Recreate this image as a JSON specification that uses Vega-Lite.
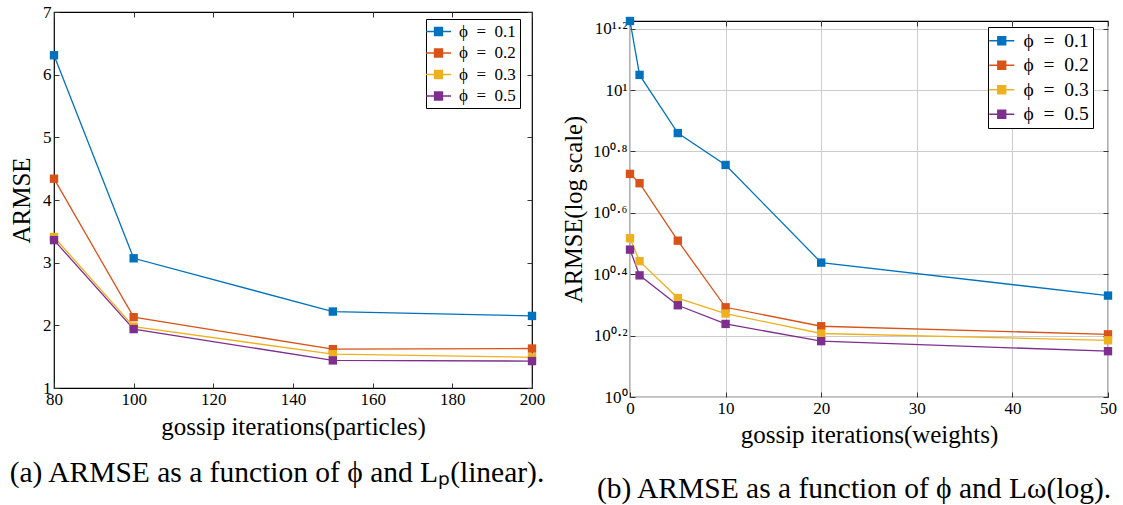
{
  "$schema": "https://vega.github.io/schema/vega-lite/v6.json",
  "padding": {"left": 8, "top": 2, "right": 5, "bottom": 0},
  "background": "white",
  "spacing": 14,
  "datasets": {
    "lin": [
      {"iter": 80, "phi": "ϕ\u2002=\u20020.1", "armse": 6.31},
      {"iter": 100, "phi": "ϕ\u2002=\u20020.1", "armse": 3.07},
      {"iter": 150, "phi": "ϕ\u2002=\u20020.1", "armse": 2.22},
      {"iter": 200, "phi": "ϕ\u2002=\u20020.1", "armse": 2.15},
      {"iter": 80, "phi": "ϕ\u2002=\u20020.2", "armse": 4.34},
      {"iter": 100, "phi": "ϕ\u2002=\u20020.2", "armse": 2.13},
      {"iter": 150, "phi": "ϕ\u2002=\u20020.2", "armse": 1.62},
      {"iter": 200, "phi": "ϕ\u2002=\u20020.2", "armse": 1.63},
      {"iter": 80, "phi": "ϕ\u2002=\u20020.3", "armse": 3.41},
      {"iter": 100, "phi": "ϕ\u2002=\u20020.3", "armse": 1.98},
      {"iter": 150, "phi": "ϕ\u2002=\u20020.3", "armse": 1.54},
      {"iter": 200, "phi": "ϕ\u2002=\u20020.3", "armse": 1.49},
      {"iter": 80, "phi": "ϕ\u2002=\u20020.5", "armse": 3.36},
      {"iter": 100, "phi": "ϕ\u2002=\u20020.5", "armse": 1.94},
      {"iter": 150, "phi": "ϕ\u2002=\u20020.5", "armse": 1.44},
      {"iter": 200, "phi": "ϕ\u2002=\u20020.5", "armse": 1.43}
    ],
    "logd": [
      {"iter": 0, "phi": "ϕ\u2002=\u20020.1", "armse": 16.78},
      {"iter": 1, "phi": "ϕ\u2002=\u20020.1", "armse": 11.2},
      {"iter": 5, "phi": "ϕ\u2002=\u20020.1", "armse": 7.24},
      {"iter": 10, "phi": "ϕ\u2002=\u20020.1", "armse": 5.70},
      {"iter": 20, "phi": "ϕ\u2002=\u20020.1", "armse": 2.74},
      {"iter": 50, "phi": "ϕ\u2002=\u20020.1", "armse": 2.14},
      {"iter": 0, "phi": "ϕ\u2002=\u20020.2", "armse": 5.33},
      {"iter": 1, "phi": "ϕ\u2002=\u20020.2", "armse": 4.97},
      {"iter": 5, "phi": "ϕ\u2002=\u20020.2", "armse": 3.23},
      {"iter": 10, "phi": "ϕ\u2002=\u20020.2", "armse": 1.96},
      {"iter": 20, "phi": "ϕ\u2002=\u20020.2", "armse": 1.70},
      {"iter": 50, "phi": "ϕ\u2002=\u20020.2", "armse": 1.60},
      {"iter": 0, "phi": "ϕ\u2002=\u20020.3", "armse": 3.29},
      {"iter": 1, "phi": "ϕ\u2002=\u20020.3", "armse": 2.77},
      {"iter": 5, "phi": "ϕ\u2002=\u20020.3", "armse": 2.10},
      {"iter": 10, "phi": "ϕ\u2002=\u20020.3", "armse": 1.87},
      {"iter": 20, "phi": "ϕ\u2002=\u20020.3", "armse": 1.61},
      {"iter": 50, "phi": "ϕ\u2002=\u20020.3", "armse": 1.53},
      {"iter": 0, "phi": "ϕ\u2002=\u20020.5", "armse": 3.02},
      {"iter": 1, "phi": "ϕ\u2002=\u20020.5", "armse": 2.49},
      {"iter": 5, "phi": "ϕ\u2002=\u20020.5", "armse": 1.99},
      {"iter": 10, "phi": "ϕ\u2002=\u20020.5", "armse": 1.73},
      {"iter": 20, "phi": "ϕ\u2002=\u20020.5", "armse": 1.52},
      {"iter": 50, "phi": "ϕ\u2002=\u20020.5", "armse": 1.41}
    ]
  },
  "resolve": {"scale": {"color": "independent"}, "legend": {"color": "independent"}},
  "hconcat": [
    {
      "width": 478,
      "height": 376,
      "data": {"name": "lin"},
      "title": {"text": "(a) ARMSE as a function of ϕ and Lₚ(linear).", "orient": "bottom", "fontSize": 29.5, "font": "Liberation Serif", "fontWeight": "normal", "color": "black", "offset": 20, "dx": -16, "anchor": "middle"},
      "encoding": {
        "color": {
          "field": "phi", "type": "nominal",
          "scale": {"domain": ["ϕ\u2002=\u20020.1", "ϕ\u2002=\u20020.2", "ϕ\u2002=\u20020.3", "ϕ\u2002=\u20020.5"], "range": ["#0072BD", "#D95319", "#EDB120", "#7E2F8E"]},
          "legend": {
            "orient": "none", "legendX": 372, "legendY": 7, "title": null, "fillColor": "white", "strokeColor": "black", "padding": 4,
            "labelFontSize": 17, "labelFont": "Liberation Serif", "labelColor": "black", "labelOffset": 12,
            "symbolType": "M-2.5,0H2.5M-0.8,-0.8H0.8V0.8H-0.8Z", "symbolSize": 100, "symbolStrokeWidth": 1.3, "rowPadding": 3.5,
            "encode": {"symbols": {"update": {
              "fill": {"signal": "indexof(datum.value,'0.1')>=0 ? '#0072BD' : indexof(datum.value,'0.2')>=0 ? '#D95319' : indexof(datum.value,'0.3')>=0 ? '#EDB120' : '#7E2F8E'"},
              "stroke": {"signal": "indexof(datum.value,'0.1')>=0 ? '#0072BD' : indexof(datum.value,'0.2')>=0 ? '#D95319' : indexof(datum.value,'0.3')>=0 ? '#EDB120' : '#7E2F8E'"},
              "opacity": {"value": 1}
            }}}
          }
        }
      },
      "layer": [
        {
          "mark": {"type": "line", "strokeWidth": 1.3},
          "encoding": {
            "x": {"field": "iter", "type": "quantitative", "scale": {"domain": [80, 200], "nice": false, "zero": false},
                  "axis": {"orient": "bottom", "values": [80, 100, 120, 140, 160, 180, 200], "title": "gossip iterations(particles)", "titleFontSize": 25, "labelFontSize": 17, "labelFont": "Liberation Serif", "tickSize": -5, "labelPadding": 8, "titlePadding": 7, "labelFlush": false}},
            "y": {"field": "armse", "type": "quantitative", "scale": {"domain": [1, 7], "nice": false, "zero": false},
                  "axis": {"orient": "left", "values": [1, 2, 3, 4, 5, 6, 7], "title": "ARMSE", "titleFontSize": 25, "labelFontSize": 17, "labelFont": "Liberation Serif", "tickSize": -5, "labelPadding": 8, "titlePadding": 8}}
          }
        },
        {
          "mark": {"type": "point", "shape": "square", "filled": true, "size": 70, "opacity": 1},
          "encoding": {
            "x": {"field": "iter", "type": "quantitative", "scale": {"domain": [80, 200], "nice": false, "zero": false},
                  "axis": {"orient": "top", "values": [80, 100, 120, 140, 160, 180, 200], "title": null, "labels": false, "tickSize": -5}},
            "y": {"field": "armse", "type": "quantitative", "scale": {"domain": [1, 7], "nice": false, "zero": false},
                  "axis": {"orient": "right", "values": [1, 2, 3, 4, 5, 6, 7], "title": null, "labels": false, "tickSize": -5}}
          }
        }
      ],
      "resolve": {"axis": {"x": "independent", "y": "independent"}}
    },
    {
      "spacing": 0,
      "resolve": {"scale": {"color": "independent"}, "legend": {"color": "independent"}},
      "vconcat": [
        {
          "width": 478,
          "height": 1,
          "data": {"values": [{"s": 0}]},
          "mark": {"type": "point", "opacity": 0},
          "view": {"stroke": null}
        },
        {
          "width": 478,
          "height": 376,
          "data": {"name": "logd"},
          "title": {"text": "(b) ARMSE as a function of ϕ and Lω(log).", "orient": "bottom", "fontSize": 29.5, "font": "Liberation Serif", "fontWeight": "normal", "color": "black", "offset": 28, "dx": -15, "anchor": "middle"},
          "encoding": {
            "color": {
              "field": "phi", "type": "nominal",
              "scale": {"domain": ["ϕ\u2002=\u20020.1", "ϕ\u2002=\u20020.2", "ϕ\u2002=\u20020.3", "ϕ\u2002=\u20020.5"], "range": ["#0072BD", "#D95319", "#EDB120", "#7E2F8E"]},
              "legend": {
                "orient": "none", "legendX": 358, "legendY": 6, "title": null, "fillColor": "white", "strokeColor": "black", "padding": 4,
                "labelFontSize": 19.5, "labelFont": "Liberation Serif", "labelColor": "black", "labelOffset": 12,
                "symbolType": "M-2.5,0H2.5M-0.8,-0.8H0.8V0.8H-0.8Z", "symbolSize": 100, "symbolStrokeWidth": 1.3, "rowPadding": 3.5,
                "encode": {"symbols": {"update": {
                  "fill": {"signal": "indexof(datum.value,'0.1')>=0 ? '#0072BD' : indexof(datum.value,'0.2')>=0 ? '#D95319' : indexof(datum.value,'0.3')>=0 ? '#EDB120' : '#7E2F8E'"},
                  "stroke": {"signal": "indexof(datum.value,'0.1')>=0 ? '#0072BD' : indexof(datum.value,'0.2')>=0 ? '#D95319' : indexof(datum.value,'0.3')>=0 ? '#EDB120' : '#7E2F8E'"},
                  "opacity": {"value": 1}
                }}}
              }
            }
          },
          "layer": [
            {
              "mark": {"type": "line", "strokeWidth": 1.3},
              "encoding": {
                "x": {"field": "iter", "type": "quantitative", "scale": {"domain": [0, 50], "nice": false, "zero": false},
                      "axis": {"orient": "bottom", "values": [0, 10, 20, 30, 40, 50], "title": "gossip iterations(weights)", "titleFontSize": 25, "labelFontSize": 17, "labelFont": "Liberation Serif", "tickSize": -5, "labelPadding": 8, "titlePadding": 6, "grid": true, "gridColor": "#cccccc", "labelFlush": false}},
                "y": {"field": "armse", "type": "quantitative", "scale": {"type": "log", "domain": [1, 16.78], "nice": false},
                      "axis": {"orient": "left", "values": [1, 1.584893, 2.511886, 3.981072, 6.309573, 10, 15.848932], "title": "ARMSE(log scale)", "titleFontSize": 24.5, "labelFontSize": 17, "labelFont": "Liberation Serif", "tickSize": -5, "labelPadding": 8, "titlePadding": 6, "grid": true, "gridColor": "#cccccc",
                               "labelExpr": "datum.value < 1.1 ? '10⁰' : datum.value < 1.7 ? '10⁰·²' : datum.value < 2.7 ? '10⁰·⁴' : datum.value < 4.2 ? '10⁰·⁶' : datum.value < 6.5 ? '10⁰·⁸' : datum.value < 11 ? '10¹' : '10¹·²'"}}
              }
            },
            {
              "mark": {"type": "point", "shape": "square", "filled": true, "size": 70, "opacity": 1},
              "encoding": {
                "x": {"field": "iter", "type": "quantitative", "scale": {"domain": [0, 50], "nice": false, "zero": false},
                      "axis": {"orient": "top", "values": [0, 10, 20, 30, 40, 50], "title": null, "labels": false, "tickSize": -5}},
                "y": {"field": "armse", "type": "quantitative", "scale": {"type": "log", "domain": [1, 16.78], "nice": false},
                      "axis": {"orient": "right", "values": [1, 1.584893, 2.511886, 3.981072, 6.309573, 10, 15.848932], "title": null, "labels": false, "tickSize": -5}}
              }
            }
          ],
          "resolve": {"axis": {"x": "independent", "y": "independent"}}
        }
      ]
    }
  ],
  "config": {
    "font": "Liberation Serif",
    "view": {"stroke": "black", "strokeWidth": 1.2},
    "axis": {"domain": false, "grid": false, "tickColor": "#333333", "labelColor": "black", "titleColor": "black", "titleFontWeight": "normal", "labelFont": "Liberation Serif", "titleFont": "Liberation Serif"}
  }
}
